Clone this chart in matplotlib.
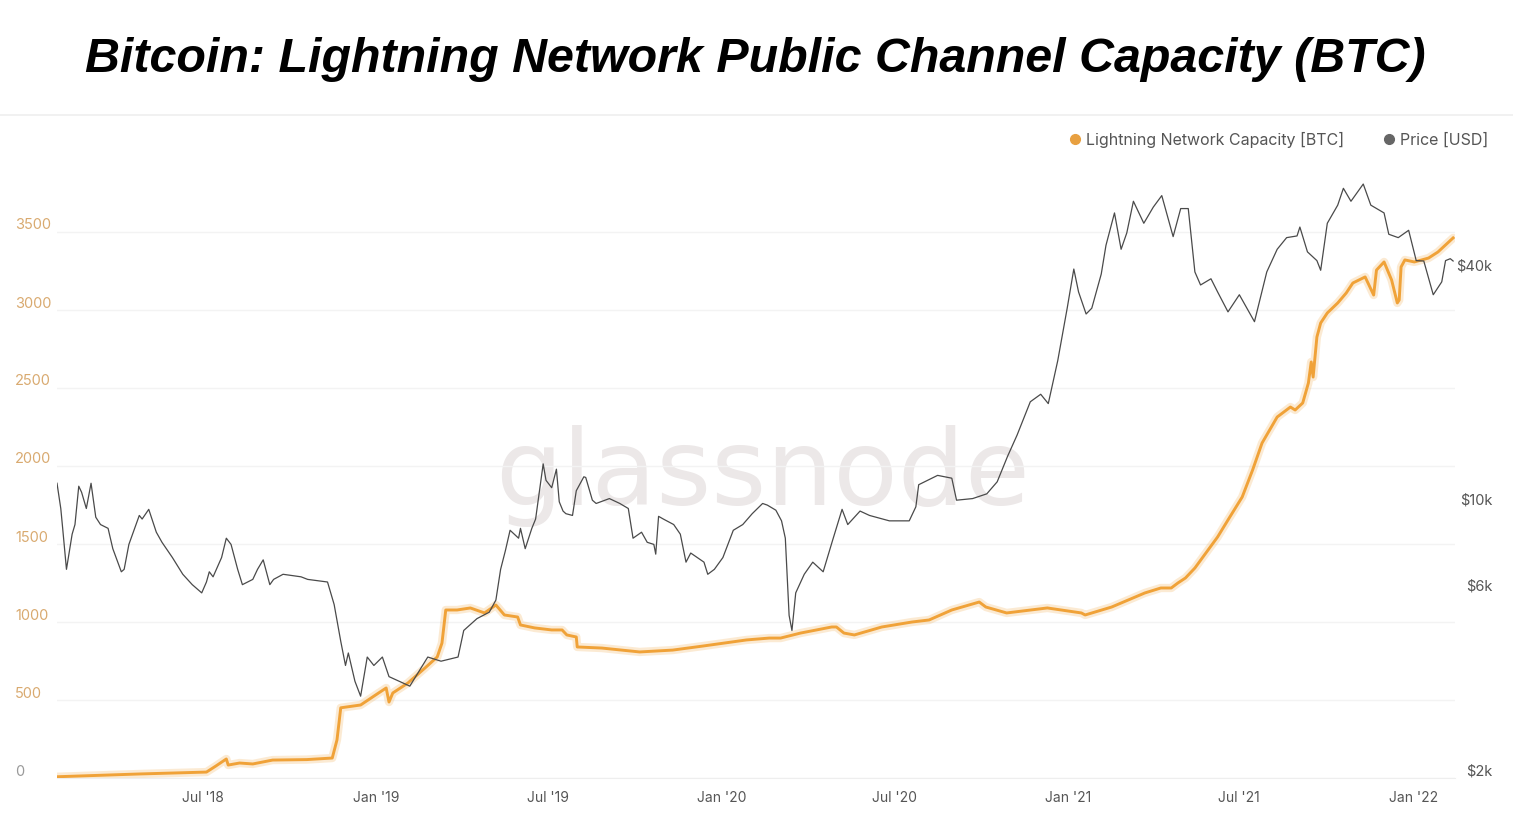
import numpy as np
import pandas as pd
import matplotlib
matplotlib.use("Agg")
import matplotlib.pyplot as plt
from matplotlib.lines import Line2D
from matplotlib.transforms import ScaledTranslation

# --- data ---
price_dates = [
    "2018-01-28", "2018-02-01", "2018-02-03", "2018-02-07", "2018-02-13", "2018-02-16",
    "2018-02-20", "2018-02-23", "2018-02-28", "2018-03-05", "2018-03-10", "2018-03-15",
    "2018-03-23", "2018-03-28", "2018-04-06", "2018-04-09", "2018-04-14", "2018-04-25",
    "2018-04-28", "2018-05-05", "2018-05-13", "2018-05-19", "2018-05-30", "2018-06-10",
    "2018-06-20", "2018-06-30", "2018-07-05", "2018-07-08", "2018-07-12", "2018-07-21",
    "2018-07-26", "2018-07-31", "2018-08-07", "2018-08-12", "2018-08-23", "2018-08-28",
    "2018-09-03", "2018-09-10", "2018-09-14", "2018-09-24", "2018-10-13", "2018-10-20",
    "2018-11-10", "2018-11-17", "2018-11-24", "2018-11-29", "2018-12-02", "2018-12-09",
    "2018-12-15", "2018-12-22", "2018-12-29", "2019-01-07", "2019-01-14", "2019-02-05",
    "2019-02-24", "2019-03-10", "2019-03-28", "2019-04-03", "2019-04-17", "2019-04-30",
    "2019-05-07", "2019-05-12", "2019-05-17", "2019-05-22", "2019-05-31", "2019-06-02",
    "2019-06-07", "2019-06-14", "2019-06-18", "2019-06-26", "2019-06-29", "2019-07-05",
    "2019-07-10", "2019-07-13", "2019-07-17", "2019-07-20", "2019-07-27", "2019-07-31",
    "2019-08-08", "2019-08-10", "2019-08-17", "2019-08-21", "2019-09-04", "2019-09-15",
    "2019-09-24", "2019-09-29", "2019-10-08", "2019-10-14", "2019-10-21", "2019-10-23",
    "2019-10-26", "2019-10-31", "2019-11-11", "2019-11-18", "2019-11-24", "2019-11-29",
    "2019-12-13", "2019-12-17", "2019-12-24", "2020-01-02", "2020-01-13", "2020-01-23",
    "2020-02-02", "2020-02-13", "2020-02-18", "2020-02-27", "2020-03-04", "2020-03-08",
    "2020-03-12", "2020-03-15", "2020-03-19", "2020-03-28", "2020-04-06", "2020-04-17",
    "2020-04-27", "2020-05-07", "2020-05-13", "2020-05-26", "2020-06-05", "2020-06-26",
    "2020-07-17", "2020-07-24", "2020-07-27", "2020-08-16", "2020-08-31", "2020-09-05",
    "2020-09-22", "2020-10-07", "2020-10-18", "2020-10-29", "2020-11-08", "2020-11-22",
    "2020-12-03", "2020-12-11", "2020-12-21", "2020-12-31", "2021-01-07", "2021-01-12",
    "2021-01-20", "2021-01-26", "2021-02-05", "2021-02-10", "2021-02-19", "2021-02-26",
    "2021-03-04", "2021-03-11", "2021-03-22", "2021-04-01", "2021-04-10", "2021-04-22",
    "2021-04-30", "2021-05-08", "2021-05-15", "2021-05-21", "2021-06-01", "2021-06-08",
    "2021-06-19", "2021-07-01", "2021-07-17", "2021-07-30", "2021-08-10", "2021-08-20",
    "2021-08-31", "2021-09-03", "2021-09-11", "2021-09-21", "2021-09-25", "2021-10-02",
    "2021-10-13", "2021-10-19", "2021-10-27", "2021-11-09", "2021-11-17", "2021-12-01",
    "2021-12-06", "2021-12-16", "2021-12-27", "2022-01-04", "2022-01-12", "2022-01-22",
    "2022-01-31", "2022-02-04", "2022-02-09", "2022-02-12",
]
price_usd = [
    11500, 9900, 8800, 6900, 8500, 9000,
    11300, 10900, 9900, 11500, 9400, 9000,
    8800, 7800, 6800, 6900, 8000, 9500,
    9300, 9850, 8600, 8100, 7400, 6700,
    6300, 6000, 6400, 6800, 6600, 7400,
    8300, 8000, 6900, 6300, 6500, 6900,
    7300, 6300, 6500, 6700, 6600, 6500,
    6400, 5600, 4500, 3900, 4200, 3550,
    3250, 4100, 3900, 4100, 3650, 3450,
    4100, 4000, 4100, 4800, 5150, 5350,
    5750, 6900, 7700, 8700, 8300, 8800,
    7800, 8800, 9300, 12900, 11700, 11200,
    12500, 10300, 9750, 9600, 9500, 11000,
    11950, 11900, 10400, 10200, 10500, 10200,
    9900, 8300, 8600, 8100, 8000, 7550,
    9450, 9300, 9000, 8500, 7200, 7600,
    7200, 6700, 6900, 7400, 8700, 9000,
    9600, 10200, 10100, 9800, 9200, 8300,
    5250, 4800, 6000, 6700, 7200, 6800,
    8200, 9850, 9000, 9750, 9500, 9200,
    9200, 10000, 11400, 12050, 11850, 10400,
    10500, 10800, 11600, 13500, 15300, 18650,
    19500, 18450, 23800, 32500, 41000, 35800,
    31400, 32500, 39800, 47200, 57200, 46100,
    50800, 61300, 53800, 59200, 63400, 49700,
    58700, 58700, 40300, 37300, 38700, 35800,
    31800, 35200, 30000, 40300, 46100, 49400,
    49900, 52600, 45400, 43100, 40700, 53800,
    59900, 66200, 61300, 67900, 59900, 57200,
    50400, 49400, 51600, 43100, 43000, 35200,
    38000, 43100, 43600, 43000,
]

cap_dates = [
    "2018-01-28", "2018-04-26", "2018-07-05", "2018-07-15", "2018-07-26", "2018-07-28",
    "2018-08-09", "2018-08-23", "2018-09-13", "2018-10-19", "2018-11-15", "2018-11-20",
    "2018-11-24", "2018-12-15", "2019-01-03", "2019-01-11", "2019-01-14", "2019-01-18",
    "2019-02-03", "2019-02-21", "2019-03-06", "2019-03-11", "2019-03-15", "2019-03-27",
    "2019-04-10", "2019-04-25", "2019-05-07", "2019-05-16", "2019-05-30", "2019-06-02",
    "2019-06-17", "2019-07-05", "2019-07-16", "2019-07-21", "2019-07-31", "2019-08-01",
    "2019-08-27", "2019-10-06", "2019-11-10", "2019-12-12", "2020-01-27", "2020-02-20",
    "2020-03-03", "2020-03-24", "2020-04-26", "2020-05-01", "2020-05-09", "2020-05-20",
    "2020-06-18", "2020-07-20", "2020-08-07", "2020-08-31", "2020-09-29", "2020-10-06",
    "2020-10-28", "2020-12-10", "2021-01-15", "2021-01-19", "2021-02-16", "2021-03-23",
    "2021-04-09", "2021-04-20", "2021-04-27", "2021-05-05", "2021-05-15", "2021-05-29",
    "2021-06-08", "2021-06-19", "2021-07-04", "2021-07-15", "2021-07-25", "2021-08-10",
    "2021-08-24", "2021-08-29", "2021-09-06", "2021-09-12", "2021-09-15", "2021-09-17",
    "2021-09-21", "2021-09-25", "2021-10-02", "2021-10-13", "2021-10-22", "2021-10-29",
    "2021-11-11", "2021-11-20", "2021-11-23", "2021-12-01", "2021-12-09", "2021-12-15",
    "2021-12-17", "2021-12-19", "2021-12-23", "2022-01-02", "2022-01-17", "2022-01-27",
    "2022-02-04", "2022-02-12",
]
cap_btc = [
    8, 26, 38, 77, 122, 83,
    96, 90, 115, 118, 128, 244,
    450, 468, 545, 577, 487, 545,
    609, 705, 776, 865, 1077, 1077,
    1090, 1058, 1109, 1045, 1032, 981,
    962, 949, 949, 917, 904, 840,
    833, 808, 820, 846, 885, 897,
    897, 929, 968, 968, 929, 917,
    968, 1000, 1013, 1077, 1128, 1096,
    1058, 1090, 1058, 1045, 1096, 1186,
    1218, 1218, 1250, 1282, 1346, 1462,
    1545, 1654, 1801, 1974, 2147, 2314,
    2378, 2359, 2404, 2532, 2667, 2570,
    2827, 2917, 2981, 3045, 3109, 3173,
    3212, 3096, 3256, 3308, 3192, 3045,
    3064, 3276, 3321, 3308, 3333, 3372,
    3417, 3462,
]

x_tick_dates = ["2018-07-01", "2019-01-01", "2019-07-01", "2020-01-01",
                "2020-07-01", "2021-01-01", "2021-07-01", "2022-01-01"]
x_tick_labels = ["Jul '18", "Jan '19", "Jul '19", "Jan '20",
                 "Jul '20", "Jan '21", "Jul '21", "Jan '22"]
btc_ticks = [0, 500, 1000, 1500, 2000, 2500, 3000, 3500]
usd_ticks = [2000, 6000, 10000, 40000]
usd_labels = ["$2k", "$6k", "$10k", "$40k"]

price_dates = pd.to_datetime(price_dates)
cap_dates = pd.to_datetime(cap_dates)

plt.rcParams['font.family'] = ['Inter', 'DejaVu Sans']

W, H = 1513, 817
fig = plt.figure(figsize=(W / 100, H / 100), dpi=100)
fig.patch.set_facecolor('white')

orange = '#f0a238'
grey = '#4a4a4a'

ax1 = fig.add_axes([57 / W, 39 / H, 1398 / W, 598 / H])
ax1.patch.set_visible(False)
ax2 = ax1.twinx()

# capacity with a soft glow
ax1.plot(cap_dates, cap_btc, color=orange, lw=6, alpha=0.22, solid_capstyle='round', zorder=2)
ax1.plot(cap_dates, cap_btc, color=orange, lw=2.1, zorder=3)
ax2.plot(price_dates, price_usd, color=grey, lw=0.9)

ax1.set_xlim(pd.Timestamp("2018-01-28"), pd.Timestamp("2022-02-14"))
ax1.set_ylim(0, 598 / 0.156)
ax2.set_yscale('log')
ax2.set_ylim(2000, 2000 * 10 ** (598 / 388))

ax1.set_xticks(pd.to_datetime(x_tick_dates))
ax1.set_xticklabels(x_tick_labels)
ax1.set_yticks(btc_ticks)
ax1.set_yticklabels([str(v) for v in btc_ticks])
ax2.set_yticks(usd_ticks)
ax2.set_yticklabels(usd_labels)
ax2.yaxis.set_minor_locator(matplotlib.ticker.NullLocator())

ax1.grid(axis='y', color='#f3f3f3', lw=1)
ax1.set_axisbelow(True)
for ax in (ax1, ax2):
    for s in ('top', 'left', 'right'):
        ax.spines[s].set_visible(False)
    ax.spines['bottom'].set_color('#eeeeee')
ax2.spines['bottom'].set_visible(False)

ax1.tick_params(axis='x', length=0, pad=9, labelsize=10, labelcolor='#555555')
ax1.tick_params(axis='y', length=0, pad=30, labelsize=10.5, labelcolor='#d9aa70')
ax2.tick_params(axis='y', length=0, pad=27, labelsize=10.5, labelcolor='#555555')

up = ScaledTranslation(0, 0.08, fig.dpi_scale_trans)
for lab in ax1.get_yticklabels():
    lab.set_horizontalalignment('left')
    lab.set_transform(lab.get_transform() + up)
ax1.get_yticklabels()[0].set_color('#9a9a9a')
for lab in ax2.get_yticklabels():
    lab.set_horizontalalignment('right')
    lab.set_transform(lab.get_transform() + up)

# watermark
ax1.text(0.505, 0.4565, "glassnode", transform=ax1.transAxes, ha='center', va='baseline',
         fontsize=76, color='#ece8e8', family='DejaVu Sans', zorder=0)

# title and separator
fig.text(0.499, (H - 71.7) / H, "Bitcoin: Lightning Network Public Channel Capacity (BTC)",
         ha='center', va='baseline', fontsize=34.8, fontweight='bold', fontstyle='italic',
         family='Liberation Sans', color='black')
fig.add_artist(Line2D([0, 1], [(H - 115) / H] * 2, transform=fig.transFigure,
                      color='#efefef', lw=1.2))

handles = [Line2D([], [], marker='o', ls='', color='#e8a040', markersize=7),
           Line2D([], [], marker='o', ls='', color='#666666', markersize=7)]
fig.legend(handles, ["Lightning Network Capacity [BTC]", "Price [USD]"],
           loc='center right', bbox_to_anchor=(1488 / W, (H - 140) / H),
           ncol=2, frameon=False, fontsize=11.5, labelcolor='#555555',
           handlelength=0.8, handletextpad=0.3, columnspacing=2.4,
           borderpad=0, borderaxespad=0)

fig.savefig("out.png", dpi=100, facecolor='white')
